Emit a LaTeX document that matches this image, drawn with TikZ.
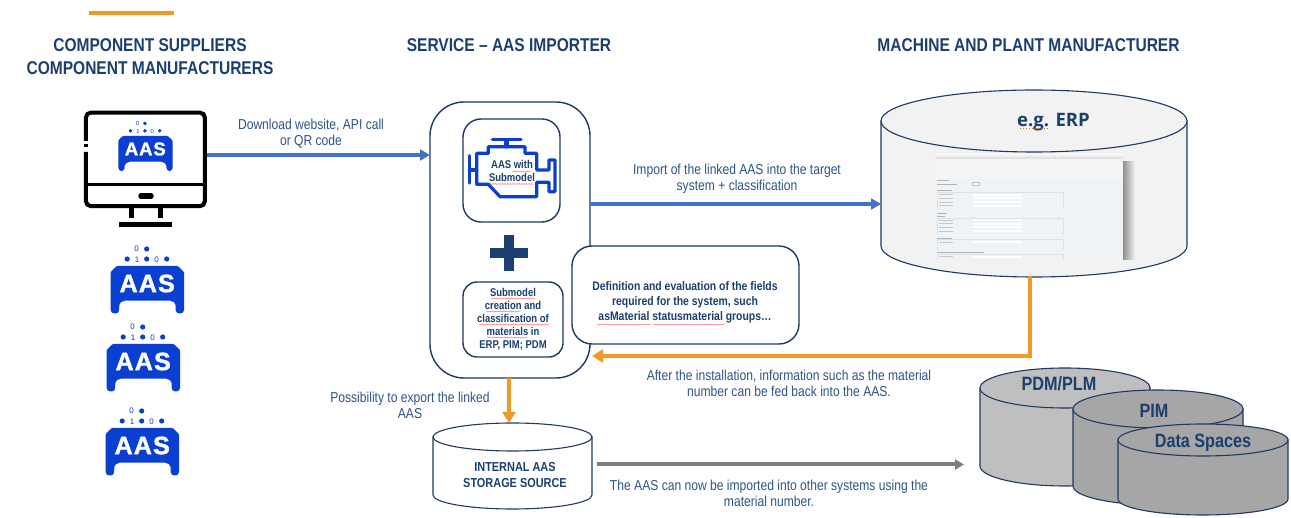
\documentclass[tikz,border=0pt]{standalone}
\usepackage{fontspec}
\setmainfont[FakeStretch=0.84]{Liberation Sans}
\newfontfamily\plainfont{Liberation Sans}
\newfontfamily\heavyfont[FakeBold=1.6]{Liberation Sans Bold}
\newfontfamily\openfont{Open Sans}
\usetikzlibrary{arrows.meta,decorations.pathmorphing}
\definecolor{navy}{HTML}{1B3F6F}
\definecolor{edgeblue}{HTML}{203864}
\definecolor{labelblue}{HTML}{2F5487}
\definecolor{aasblue}{HTML}{0A3FD0}
\definecolor{arrowblue}{HTML}{4472C4}
\definecolor{orangeline}{HTML}{EE9A25}
\definecolor{grayline}{HTML}{7F7F7F}
\definecolor{formbg}{HTML}{EEF3F8}
\tikzset{
  x=1pt,y=-1pt,
  every node/.style={inner sep=0pt,outer sep=0pt},
  heading/.style={font=\fontsize{18.5}{23}\selectfont\bfseries,text=navy,align=center},
  caption/.style={font=\fontsize{14.4}{16}\selectfont,text=labelblue,align=center},
  boxtext/.style={font=\fontsize{11.3}{13}\selectfont\bfseries,text=navy,align=center},
  cyltext/.style={font=\fontsize{19.3}{22}\selectfont\bfseries,text=navy,align=center},
  roundbox/.style={draw=edgeblue,line width=1.4pt,fill=white,rounded corners=#1},
  cyl/.style={draw=edgeblue,line width=1.1pt},
  bluearrow/.style={draw=arrowblue,line width=3.6pt,-{Triangle[length=10pt,width=11pt]}},
  orangearrow/.style={draw=orangeline,line width=4pt,-{Triangle[length=11pt,width=13pt]}},
  grayarrow/.style={draw=grayline,line width=4pt,-{Triangle[length=9pt,width=10pt]}},
  squiggle/.style={draw=red!55,line width=.45pt,decorate,decoration={snake,segment length=2.4pt,amplitude=.5pt}},
  monline/.style={draw=black,line width=4pt},
  engine/.style={draw=aasblue,line width=3.2pt,line join=round,line cap=round},
}
% cylinder: centre x, rx, top-ellipse centre y, ry, bottom-ellipse centre y, fill
\newcommand{\cylshape}[6]{%
  \filldraw[cyl,fill=#6] (#1-#2,#3) -- (#1-#2,#5) arc[start angle=180,end angle=360,x radius=#2,y radius=-#4] -- (#1+#2,#3) -- cycle;
  \filldraw[cyl,fill=#6] (#1,#3) ellipse[x radius=#2,y radius=#4];
}
% AAS icon: left x, top y, scale
\newcommand{\aasicon}[4]{%
\begin{scope}[shift={(#1,#2)},scale=#3]
  \fill[aasblue,rounded corners=.9pt] (6,0) -- (67,0) -- (73.3,6) -- (73.3,43) [rounded corners=3.5pt] -- (73.3,47.5) -- (65,47.5) -- (65,38) [rounded corners=5pt] -- (64.5,34.7) -- (9,34.7) -- (8.5,38) [rounded corners=3.5pt] -- (8.5,47.5) -- (0,47.5) [rounded corners=.9pt] -- (0,6) -- cycle;
  \node[text=white,font=\heavyfont\fontsize{25}{25}\selectfont,scale=#3] (#4t) at (36.5,17.5) {A\kern1.2pt A\kern1.2pt S};
  \fill[aasblue] (16.5,-7) circle[radius=2.6] (36,-7) circle[radius=2.6] (56,-7) circle[radius=2.6] (36,-17) circle[radius=2.6];
  \node[text=aasblue,font=\plainfont\fontsize{8}{8}\selectfont,scale=#3] (#4a) at (26.5,-6.5) {1};
  \node[text=aasblue,font=\plainfont\fontsize{8}{8}\selectfont,scale=#3] (#4b) at (46,-6.5) {0};
  \node[text=aasblue,font=\plainfont\fontsize{8}{8}\selectfont,scale=#3] (#4c) at (26,-17) {0};
\end{scope}}
\begin{document}
\begin{tikzpicture}
\useasboundingbox (0,0) rectangle (1291,518);
\fill[white] (0,0) rectangle (1291,518);
% accent bar
\fill[orangeline] (89,11) rectangle (174,15);
% headings
\node[heading] (hLeft) at (150,56.5) {COMPONENT SUPPLIERS\\COMPONENT MANUFACTURERS};
\node[heading] (hMid) at (509,45) {SERVICE -- AAS IMPORTER};
\node[heading] (hRight) at (1028.5,45) {MACHINE AND PLANT MANUFACTURER};

% monitor
\node[minimum width=123pt,minimum height=106pt] (monitor) at (145.5,155) {};
\draw[monline,rounded corners=5pt] (85.9,141) -- (85.9,112.6) -- (204.9,112.6) -- (204.9,206.2) -- (85.9,206.2) -- (85.9,152);
\draw[monline] (85.9,144.5) -- (85.9,147.5);
\draw[monline,line width=3pt] (85,185) -- (206,185);
\draw[draw=black,line width=5.5pt,line cap=round] (141,196) -- (151,196);
\draw[monline,line width=5pt] (131,208) -- (131,218) (160,208) -- (160,218);
\draw[monline,line width=5pt] (119,224.5) -- (172,224.5);
\aasicon{118.3}{136}{.74}{ia}
\aasicon{110.7}{266}{1}{ib}
\aasicon{106.7}{344}{1}{ic}
\aasicon{105.7}{428}{1}{id}

% importer
\node[roundbox=34pt,minimum width=160pt,minimum height=276pt] (importer) at (510,240) {};
\node[roundbox=18pt,minimum width=97pt,minimum height=103pt] (aasbox) at (511.5,170.5) {};
% engine
\begin{scope}[shift={(425,95)},x=.3333pt,y=-.3333pt]
  \draw[engine] (190,155) -- (300,155) -- (300,175) -- (335,175) -- (335,225) -- (372,225) -- (372,195) -- (390,195) -- (390,290) -- (372,290) -- (372,262) -- (335,262) -- (335,305) -- (225,305) -- (190,268) -- (155,268) -- (155,175) -- (190,175) -- cycle;
  \draw[engine] (202,134) -- (288,134);
  \draw[engine,line width=5pt] (246,136) -- (246,153);
  \draw[engine] (133,182) -- (133,264);
  \draw[engine] (133,225) -- (155,225);
\end{scope}
\node[boxtext] (aastext) at (512,170.5) {AAS with\\Submodel};
\draw[squiggle] (512,171.5) -- (531,171.5);
\draw[squiggle] (490,184) -- (534,184);
% plus
\fill[navy] (490,248) rectangle (528,258);
\fill[navy] (504,235) rectangle (514,271);
% submodel box
\node[roundbox=14pt,minimum width=100pt,minimum height=75pt] (subbox) at (513,319.5) {};
\node[boxtext] (subtext) at (513,319) {Submodel\\creation and\\classification of\\materials in\\ERP, PIM; PDM};
\draw[squiggle] (491,298.5) -- (535,298.5);
\draw[squiggle] (486,311.5) -- (521,311.5);
\draw[squiggle] (479,324.5) -- (549,324.5);
\draw[squiggle] (487,337.5) -- (528,337.5);
% definition box
\node[roundbox=20pt,minimum width=227pt,minimum height=98pt] (defbox) at (685.5,295) {};
\node[boxtext,font=\fontsize{12.4}{14.7}\selectfont\bfseries] (deftext) at (685,302.5) {Definition and evaluation of the fields\\required for the system, such\\asMaterial statusmaterial groups…};
\draw[squiggle] (597,324.5) -- (651,324.5);
\draw[squiggle] (653,324.5) -- (725,324.5);

% ERP cylinder
\node[minimum width=306pt,minimum height=186pt] (erp) at (1034,183) {};
\cylshape{1034}{153}{121}{31}{246}{black!5}
\node[font=\openfont\fontsize{18.5}{22}\selectfont\bfseries,text=navy] (erptext) at (1053.5,122) {e.g. ERP};
\draw[orangeline!80!black,line width=1pt,dotted] (1020,129) -- (1050,129);
% screenshot
\begin{scope}[shift={(870,90)},x=.3333pt,y=-.3333pt]
  \shade[left color=black!45,right color=black!5] (758,215) rectangle (795,510);
  \shade[top color=black!5,bottom color=black!15] (195,195) rectangle (758,207);
  \fill[black!4] (195,207) rectangle (758,265);
  \fill[formbg] (195,265) rectangle (758,510);
  \foreach \a/\b in {307/358,385/433,448/480,493/510}
    \draw[black!12,line width=.3pt] (200,\b) -- (200,\a) -- (580,\a) -- (580,\b);
  \foreach \y in {314,325,336,347,391,401,412,423,456,500} {
    \fill[white] (310,\y-3) rectangle (455,\y+3);
    \draw[black!22,line width=.5pt] (207,\y) -- (250,\y);
  }
  \foreach \y/\w in {270/35,282/60,302/45,369/30,379/22,444/45,488/140}
    \draw[black!30,line width=.5pt] (202,\y) -- (202+\w,\y);
  \draw[black!25,line width=.4pt,fill=white] (308,277) rectangle (328,287);
\end{scope}

% small cylinders
\node[minimum width=170pt,minimum height=116pt] (pdm) at (1065,427) {};
\cylshape{1065}{85}{388}{20}{466}{black!25}
\node[minimum width=170pt,minimum height=113pt] (pim) at (1158,445.5) {};
\cylshape{1158}{85}{409}{19}{486}{black!35}
\node[minimum width=170pt,minimum height=92pt] (data) at (1203,470) {};
\cylshape{1203}{85}{440}{16}{499}{black!35}
\node[cyltext] (pdmtext) at (1059,384) {PDM/PLM};
\node[cyltext] (pimtext) at (1154,411) {PIM};
\node[cyltext] (datatext) at (1203,443) {Data Spaces};

% storage
\node[minimum width=160pt,minimum height=83pt] (storage) at (512.5,464.5) {};
\cylshape{512.5}{79.5}{437}{14}{495}{white}
\node[boxtext,font=\fontsize{13}{16}\selectfont\bfseries] (storetext) at (515,475) {INTERNAL AAS\\STORAGE SOURCE};

% connectors
\draw[bluearrow] (monitor.east) -- (monitor.east -| importer.west);
\draw[bluearrow] ([yshift=36pt]importer.east) -- ([yshift=36pt]importer.east -| erp.west);
\draw[orangearrow] ([xshift=-4pt]erp.south) |- ([yshift=-116pt,xshift=2pt]importer.east);
\draw[orangearrow] ([xshift=-1pt]importer.south) -- ([xshift=-1pt]importer.south |- storage.north);
\draw[grayarrow] ([xshift=4pt]storage.east) -- ([xshift=-16pt]storage.east -| pdm.west);

% captions
\node[caption] (c1) at (311,134) {Download website, API call\\or QR code};
\node[caption] (c2) at (737,179) {Import of the linked AAS into the target\\system + classification};
\node[caption] (c3) at (789,383) {After the installation, information such as the material\\number can be fed back into the AAS.};
\node[caption] (c4) at (410,405) {Possibility to export the linked\\AAS};
\node[caption] (c5) at (769,493) {The AAS can now be imported into other systems using the\\material number.};
\end{tikzpicture}
\end{document}
